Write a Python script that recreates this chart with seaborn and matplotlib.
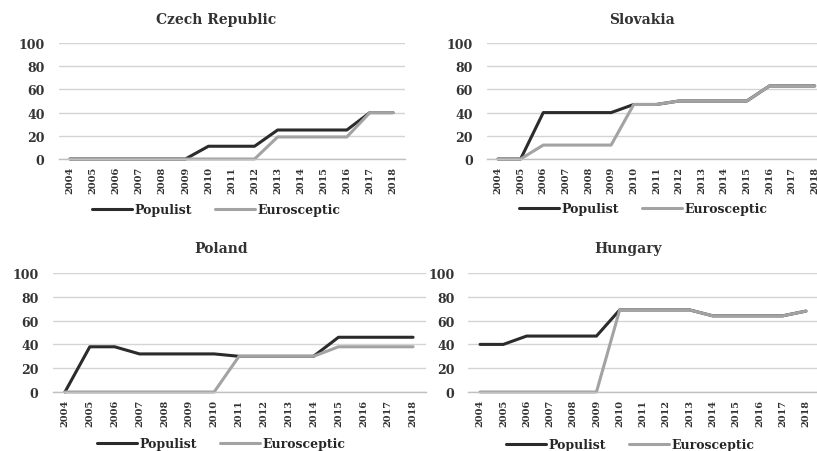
import pandas as pd
import matplotlib
matplotlib.use('Agg')
import matplotlib.pyplot as plt
import seaborn as sns

# values (share in %)
years = list(range(2004, 2019))
series_names = ['Populist', 'Eurosceptic']
countries = ['Czech Republic', 'Slovakia', 'Poland', 'Hungary']

czech_populist = [0, 0, 0, 0, 0, 0, 11, 11, 11, 25, 25, 25, 25, 40, 40]
czech_eurosceptic = [0, 0, 0, 0, 0, 0, 0, 0, 0, 19, 19, 19, 19, 40, 40]
slovakia_populist = [0, 0, 40, 40, 40, 40, 47, 47, 50, 50, 50, 50, 63, 63, 63]
slovakia_eurosceptic = [0, 0, 12, 12, 12, 12, 47, 47, 50, 50, 50, 50, 63, 63, 63]
poland_populist = [0, 38, 38, 32, 32, 32, 32, 30, 30, 30, 30, 46, 46, 46, 46]
poland_eurosceptic = [0, 0, 0, 0, 0, 0, 0, 30, 30, 30, 30, 38, 38, 38, 38]
hungary_populist = [40, 40, 47, 47, 47, 47, 69, 69, 69, 69, 64, 64, 64, 64, 68]
hungary_eurosceptic = [0, 0, 0, 0, 0, 0, 69, 69, 69, 69, 64, 64, 64, 64, 68]

yticks = [0, 20, 40, 60, 80, 100]

data = {
    'Czech Republic': (czech_populist, czech_eurosceptic),
    'Slovakia': (slovakia_populist, slovakia_eurosceptic),
    'Poland': (poland_populist, poland_eurosceptic),
    'Hungary': (hungary_populist, hungary_eurosceptic),
}

rows = []
for c in countries:
    pop, eur = data[c]
    for y, p, e in zip(years, pop, eur):
        rows.append({'country': c, 'year': y, 'series': 'Populist', 'value': p})
        rows.append({'country': c, 'year': y, 'series': 'Eurosceptic', 'value': e})
df = pd.DataFrame(rows)

sns.set_style('white')
plt.rcParams['font.family'] = ['DejaVu Serif']

W, H = 817, 452
fig = plt.figure(figsize=(W / 100, H / 100), dpi=100)

# panel layout in pixels: left, right, top(y=100), bottom(y=0), title x/y, legend x/y
layout = {
    'Czech Republic': (58.5, 404.5, 44, 160, 216, 20, 216, 211),
    'Slovakia': (486.7, 826, 44, 160, 642, 20, 643, 210),
    'Poland': (52.5, 425.5, 274, 393, 221, 249, 221, 445),
    'Hungary': (468.4, 817.6, 274, 393, 628, 249, 630, 446),
}

palette = {'Populist': '#2b2b2b', 'Eurosceptic': '#a3a3a3'}

for c in countries:
    l, r, t, b, tx, ty, lx, ly = layout[c]
    ax = fig.add_axes([l / W, 1 - b / H, (r - l) / W, (b - t) / H])
    sns.lineplot(data=df[df['country'] == c], x='year', y='value', hue='series',
                 hue_order=series_names, palette=palette, linewidth=2.2, ax=ax)
    for ln in ax.lines:
        ln.set_clip_on(False)
    ax.set_xlim(2003.5, 2018.5)
    ax.set_ylim(0, 100)
    ax.set_xticks(years)
    ax.set_xticklabels([str(y) for y in years], rotation=90, fontsize=7, fontweight='bold', color='#333333')
    ax.set_yticks(yticks)
    ax.set_yticklabels([str(v) for v in yticks], fontsize=9, fontweight='bold', color='#333333')
    ax.tick_params(axis='y', length=0, pad=10)
    ax.tick_params(axis='x', length=0, pad=5)
    ax.set_xlabel('')
    ax.set_ylabel('')
    ax.grid(axis='y', color='#d4d4d4', linewidth=1.0)
    ax.set_axisbelow(True)
    for side in ['top', 'right', 'left']:
        ax.spines[side].set_visible(False)
    ax.spines['bottom'].set_color('#c0c0c0')
    ax.spines['bottom'].set_linewidth(1.0)
    fig.text(tx / W, 1 - ty / H, c, ha='center', va='center', fontsize=10,
             fontweight='bold', color='#333333')
    ax.legend(loc='center', bbox_to_anchor=(lx / W, 1 - ly / H), bbox_transform=fig.transFigure,
              ncol=2, frameon=False, handlelength=3.2, handletextpad=0.2,
              columnspacing=1.8, borderpad=0, prop={'weight': 'bold', 'size': 9})

fig.savefig('out.png', dpi=100)
